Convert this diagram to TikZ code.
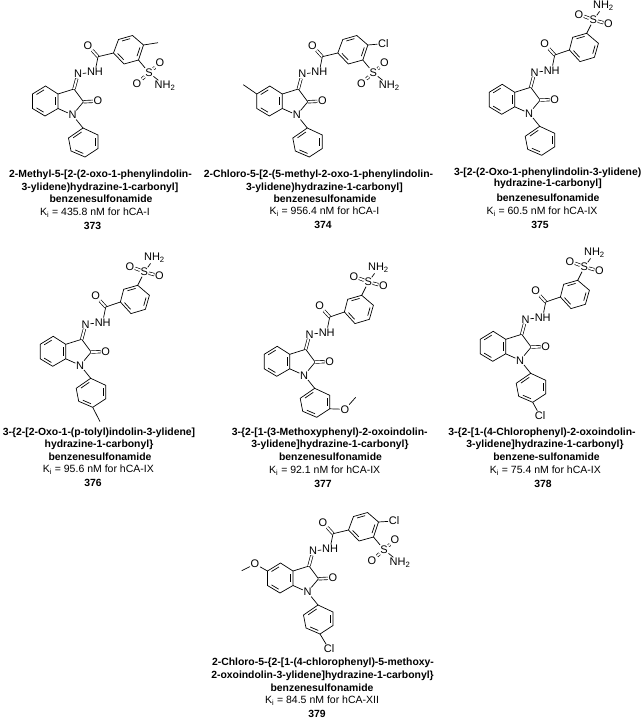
\documentclass[tikz,border=0pt]{standalone}
\usepackage{fontspec}
\setmainfont{Liberation Sans}
\usetikzlibrary{calc}

\tikzset{
  bond/.style={line width=.7pt},
  dbl/.style={line width=.65pt, double, double distance=1.9pt},
  atom/.style={font=\fontsize{11}{12}\selectfont, inner sep=.6pt},
  capb/.style={font=\fontsize{10.4}{12}\selectfont\bfseries, inner sep=0pt},
  capn/.style={font=\fontsize{10.5}{12}\selectfont, inner sep=0pt}
}

% inner line of a ring bond
\newcommand{\inbond}[3]{\draw[bond] ($($(#1)!.14!(#2)$)!.2!(#3)$) -- ($($(#1)!.86!(#2)$)!.2!(#3)$);}
% six ring from the coordinates #11 ... #16
\newcommand{\hexring}[1]{
  \draw[bond] (#11) -- (#12) -- (#13) -- (#14) -- (#15) -- (#16) -- cycle;
  \coordinate (#1c) at ($(#11)!.5!(#14)$);
  \inbond{#16}{#11}{#1c}
  \inbond{#12}{#13}{#1c}
  \inbond{#14}{#15}{#1c}
}
% oxindole, N-aryl ring and hydrazide, origin at C3
\newcommand{\isatincore}{
  \coordinate (b1) at (-28.5,-3);
  \coordinate (b2) at (-16,5);
  \coordinate (b3) at (-16,19.5);
  \coordinate (b4) at (-29,27);
  \coordinate (b5) at (-41.5,19.5);
  \coordinate (b6) at (-41.5,5);
  \coordinate (c3) at (0,0);
  \coordinate (c2) at (9.5,12.8);
  \coordinate (cc) at (24,-32.3);
  \coordinate (p1) at (9,39);
  \coordinate (p2) at (24,46);
  \coordinate (p3) at (24,59.5);
  \coordinate (p4) at (11,68);
  \coordinate (p5) at (-3,62);
  \coordinate (p6) at (-5.5,49);
  \node[atom] (n1) at (-1.5,26) {N};
  \node[atom] (o2) at (24,12.1) {O};
  \node[atom] (nb) at (4,-15) {N};
  \node[atom] (nh) at (21,-17) {NH};
  \node[atom] (oc) at (14,-43.3) {O};
  \hexring{b}
  \hexring{p}
  \foreach \from/\to in {b2/c3, c3/c2, c2/n1, n1/b3, n1/p1, nb/nh, nh/cc}
    \draw[bond] (\from) -- (\to);
  \foreach \from/\to in {c2/o2, c3/nb, cc/oc}
    \draw[dbl] (\from) -- (\to);
}
% benzoyl ring with the sulfonamide meta to the carbonyl
\newcommand{\metasulf}{
  \coordinate (a1) at (38.7,-37.3);
  \coordinate (a2) at (42,-50);
  \coordinate (a3) at (56,-54);
  \coordinate (a4) at (67.7,-44);
  \coordinate (a5) at (63.7,-30);
  \coordinate (a6) at (49.3,-25.7);
  \node[atom] (s) at (62.7,-67.3) {S};
  \node[atom] (so1) at (48.3,-73) {O};
  \node[atom] (so2) at (77.7,-63.3) {O};
  \node[atom] (sn) at (72.7,-81.3) {NH\textsubscript{2}};
  \hexring{a}
  \foreach \from/\to in {cc/a1, a3/s, s/sn}
    \draw[bond] (\from) -- (\to);
  \foreach \from/\to in {s/so1, s/so2}
    \draw[dbl] (\from) -- (\to);
}
% benzoyl ring with the sulfonamide on the side, a4 takes the substituent
\newcommand{\parasulf}{
  \coordinate (a1) at (39.5,-36);
  \coordinate (a2) at (44.5,-49.5);
  \coordinate (a3) at (58.5,-53.5);
  \coordinate (a4) at (69.5,-44);
  \coordinate (a5) at (64.5,-29);
  \coordinate (a6) at (50,-25);
  \node[atom] (s) at (75,-16.3) {S};
  \node[atom] (so1) at (86,-26) {O};
  \node[atom] (so2) at (63,-5.5) {O};
  \node[atom] (sn) at (91,-3.3) {NH\textsubscript{2}};
  \hexring{a}
  \foreach \from/\to in {cc/a1, a5/s, s/sn}
    \draw[bond] (\from) -- (\to);
  \foreach \from/\to in {s/so1, s/so2}
    \draw[dbl] (\from) -- (\to);
}

\begin{document}
\begin{tikzpicture}[x=1pt, y=-1pt]
  \useasboundingbox (0,0) rectangle (644,720);

  % compound 373
  \begin{scope}[shift={(74,89)}, name prefix=m373-]
    \isatincore
    \parasulf
    \coordinate (me) at (84,-46.3);
    \draw[bond] (a4) -- (me);
  \end{scope}

  % compound 374
  \begin{scope}[shift={(298.3,89)}, name prefix=m374-]
    \isatincore
    \parasulf
    \node[atom] (cl) at (85,-45.3) {Cl};
    \coordinate (me) at (-55,-4.3);
    \draw[bond] (a4) -- (cl);
    \draw[bond] (b6) -- (me);
  \end{scope}

  % compound 375
  \begin{scope}[shift={(530.7,87.3)}, name prefix=m375-]
    \isatincore
    \metasulf
  \end{scope}

  % compound 376
  \begin{scope}[shift={(81.7,339.3)}, name prefix=m376-]
    \isatincore
    \metasulf
    \coordinate (me) at (18.3,82.3);
    \draw[bond] (p4) -- (me);
  \end{scope}

  % compound 377
  \begin{scope}[shift={(305.7,349.3)}, name prefix=m377-]
    \isatincore
    \metasulf
    \node[atom] (om) at (39.3,60) {O};
    \coordinate (me) at (50,48);
    \draw[bond] (p3) -- (om);
    \draw[bond] (om) -- (me);
  \end{scope}

  % compound 378
  \begin{scope}[shift={(521.7,334.3)}, name prefix=m378-]
    \isatincore
    \metasulf
    \node[atom] (cl) at (18.3,81.3) {Cl};
    \draw[bond] (p4) -- (cl);
  \end{scope}

  % compound 379
  \begin{scope}[shift={(309,566)}, name prefix=m379-]
    \isatincore
    \parasulf
    \node[atom] (cl) at (85,-45) {Cl};
    \node[atom] (clp) at (20,83) {Cl};
    \node[atom] (om) at (-54,-2) {O};
    \coordinate (me) at (-67.3,4.7);
    \draw[bond] (a4) -- (cl);
    \draw[bond] (p4) -- (clp);
    \draw[bond] (b6) -- (om);
    \draw[bond] (om) -- (me);
  \end{scope}

  % captions
  \node[capb] (t373a) at (100.5,175) {2-Methyl-5-[2-(2-oxo-1-phenylindolin-};
  \node[capb] (t373b) at (100,187.7) {3-ylidene)hydrazine-1-carbonyl]};
  \node[capb] (t373c) at (101,199) {benzenesulfonamide};
  \node[capn] (k373) at (95,212.7) {K\textsubscript{i} = 435.8 nM for hCA-I};
  \node[capb] (n373) at (92.5,226) {373};

  \node[capb] (t374a) at (318.5,175) {2-Chloro-5-[2-(5-methyl-2-oxo-1-phenylindolin-};
  \node[capb] (t374b) at (324.5,187.7) {3-ylidene)hydrazine-1-carbonyl]};
  \node[capb] (t374c) at (325,199) {benzenesulfonamide};
  \node[capn] (k374) at (324.5,212) {K\textsubscript{i} = 956.4 nM for hCA-I};
  \node[capb] (n374) at (323,225) {374};

  \node[capb] (t375a) at (547.7,172.7) {3-[2-(2-Oxo-1-phenylindolin-3-ylidene)};
  \node[capb] (t375b) at (547.8,184.3) {hydrazine-1-carbonyl]};
  \node[capb] (t375c) at (548,197.7) {benzenesulfonamide};
  \node[capn] (k375) at (542,211.7) {K\textsubscript{i} = 60.5 nM for hCA-IX};
  \node[capb] (n375) at (540,225) {375};

  \node[capb] (t376a) at (99,432.7) {3-\{2-[2-Oxo-1-(p-tolyl)indolin-3-ylidene]};
  \node[capb] (t376b) at (99,445) {hydrazine-1-carbonyl\}};
  \node[capb] (t376c) at (100,456.7) {benzenesulfonamide};
  \node[capn] (k376) at (98.3,470) {K\textsubscript{i} = 95.6 nM for hCA-IX};
  \node[capb] (n376) at (93,483) {376};

  \node[capb] (t377a) at (329.7,432.7) {3-\{2-[1-(3-Methoxyphenyl)-2-oxoindolin-};
  \node[capb] (t377b) at (330,445) {3-ylidene]hydrazine-1-carbonyl\}};
  \node[capb] (t377c) at (330.5,456.7) {benzenesulfonamide};
  \node[capn] (k377) at (324.7,470.7) {K\textsubscript{i} = 92.1 nM for hCA-IX};
  \node[capb] (n377) at (323,484.3) {377};

  \node[capb] (t378a) at (542,432.7) {3-\{2-[1-(4-Chlorophenyl)-2-oxoindolin-};
  \node[capb] (t378b) at (545,445) {3-ylidene]hydrazine-1-carbonyl\}};
  \node[capb] (t378c) at (546.5,456.7) {benzene-sulfonamide};
  \node[capn] (k378) at (545.3,470.7) {K\textsubscript{i} = 75.4 nM for hCA-IX};
  \node[capb] (n378) at (543,484) {378};

  \node[capb] (t379a) at (323,662.7) {2-Chloro-5-\{2-[1-(4-chlorophenyl)-5-methoxy-};
  \node[capb] (t379b) at (322.5,676) {2-oxoindolin-3-ylidene]hydrazine-1-carbonyl\}};
  \node[capb] (t379c) at (322,687.3) {benzenesulfonamide};
  \node[capn] (k379) at (322,701) {K\textsubscript{i} = 84.5 nM for hCA-XII};
  \node[capb] (n379) at (317,714) {379};
\end{tikzpicture}
\end{document}
